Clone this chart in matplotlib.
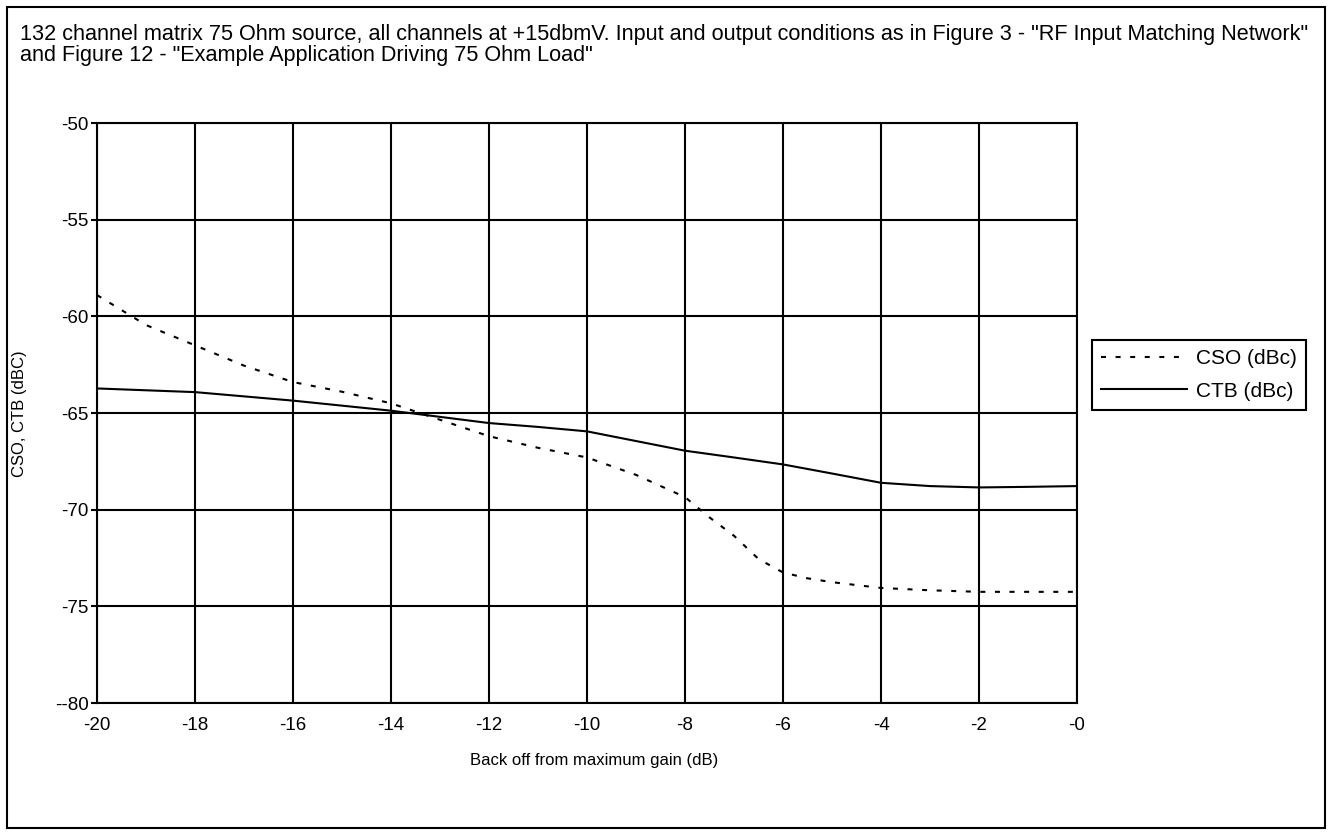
import matplotlib
matplotlib.use('Agg')
import matplotlib.pyplot as plt
from matplotlib.patches import Rectangle

plt.rcParams['font.family'] = ['Liberation Sans', 'DejaVu Sans']

# values
cso_x = [-20, -19, -18, -17, -16, -15, -14, -13, -12, -11, -10, -9, -8,
         -7.5, -7, -6.5, -6, -5.5, -5, -4, -3, -2, -1, 0]
cso_y = [-58.9, -60.45, -61.5, -62.55, -63.4, -63.9, -64.5, -65.35, -66.2, -66.8,
         -67.3, -68.2, -69.35, -70.4, -71.35, -72.55, -73.25, -73.55, -73.75,
         -74.05, -74.17, -74.25, -74.25, -74.25]
ctb_x = [-20, -18, -16, -14, -12, -11, -10, -9, -8, -7, -6, -5, -4, -3, -2, -1, 0]
ctb_y = [-63.73, -63.92, -64.36, -64.88, -65.52, -65.72, -65.95, -66.45, -66.95,
         -67.3, -67.66, -68.13, -68.61, -68.78, -68.85, -68.82, -68.78]

x_ticks = [-20, -18, -16, -14, -12, -10, -8, -6, -4, -2, 0]
x_labels = ['-20', '-18', '-16', '-14', '-12', '-10', '-8', '-6', '-4', '-2', '-0']
y_ticks = [-80, -75, -70, -65, -60, -55, -50]
y_labels = ['--80', '-75', '-70', '-65', '-60', '-55', '-50']

title = ('132 channel matrix 75 Ohm source, all channels at +15dbmV. Input and output '
         'conditions as in Figure 3 - "RF Input Matching Network"\n'
         'and Figure 12 - "Example Application Driving 75 Ohm Load"')

W, H = 1332, 835
fig = plt.figure(figsize=(W / 100, H / 100), dpi=100)
ax = fig.add_axes([97 / W, 1 - 703 / H, 980 / W, 580 / H])

ax.plot(cso_x, cso_y, color='black', lw=1.5, ls=(0, (2.4, 4.6)), label='CSO (dBc)')
ax.plot(ctb_x, ctb_y, color='black', lw=1.5, label='CTB (dBc)')

ax.set_xlim(-20, 0)
ax.set_ylim(-80, -50)
ax.set_xticks(x_ticks)
ax.set_xticklabels(x_labels)
ax.set_yticks(y_ticks)
ax.set_yticklabels(y_labels)
ax.tick_params(axis='x', length=0, pad=10, labelsize=13.5)
ax.tick_params(axis='y', length=4, width=1.5, pad=2, labelsize=13.5)
ax.grid(True, color='black', lw=1.5)
for s in ax.spines.values():
    s.set_linewidth(1.5)

leg = ax.legend(loc='lower left', bbox_to_anchor=(1092 / W, 1 - 410 / H),
                bbox_transform=fig.transFigure, borderaxespad=0, fontsize=15,
                handlelength=4.1, handletextpad=0.45, fancybox=False,
                framealpha=1, edgecolor='black', borderpad=0.45, labelspacing=0.65)
leg.get_frame().set_linewidth(1.5)

fig.text(20 / W, 1 - 24 / H, title, ha='left', va='top', fontsize=15.6, linespacing=0.98)
fig.text(594 / W, 1 - 761 / H, 'Back off from maximum gain (dB)', ha='center',
         va='center', fontsize=12)
fig.text(20 / W, 1 - 414 / H, 'CSO, CTB (dBC)', ha='center', va='center',
         rotation=90, fontsize=12)

fig.add_artist(Rectangle((7 / W, 1 - 828 / H), 1318 / W, 821 / H,
                         transform=fig.transFigure, fill=False, lw=1.5,
                         edgecolor='black'))

fig.savefig('out.png', dpi=100)
